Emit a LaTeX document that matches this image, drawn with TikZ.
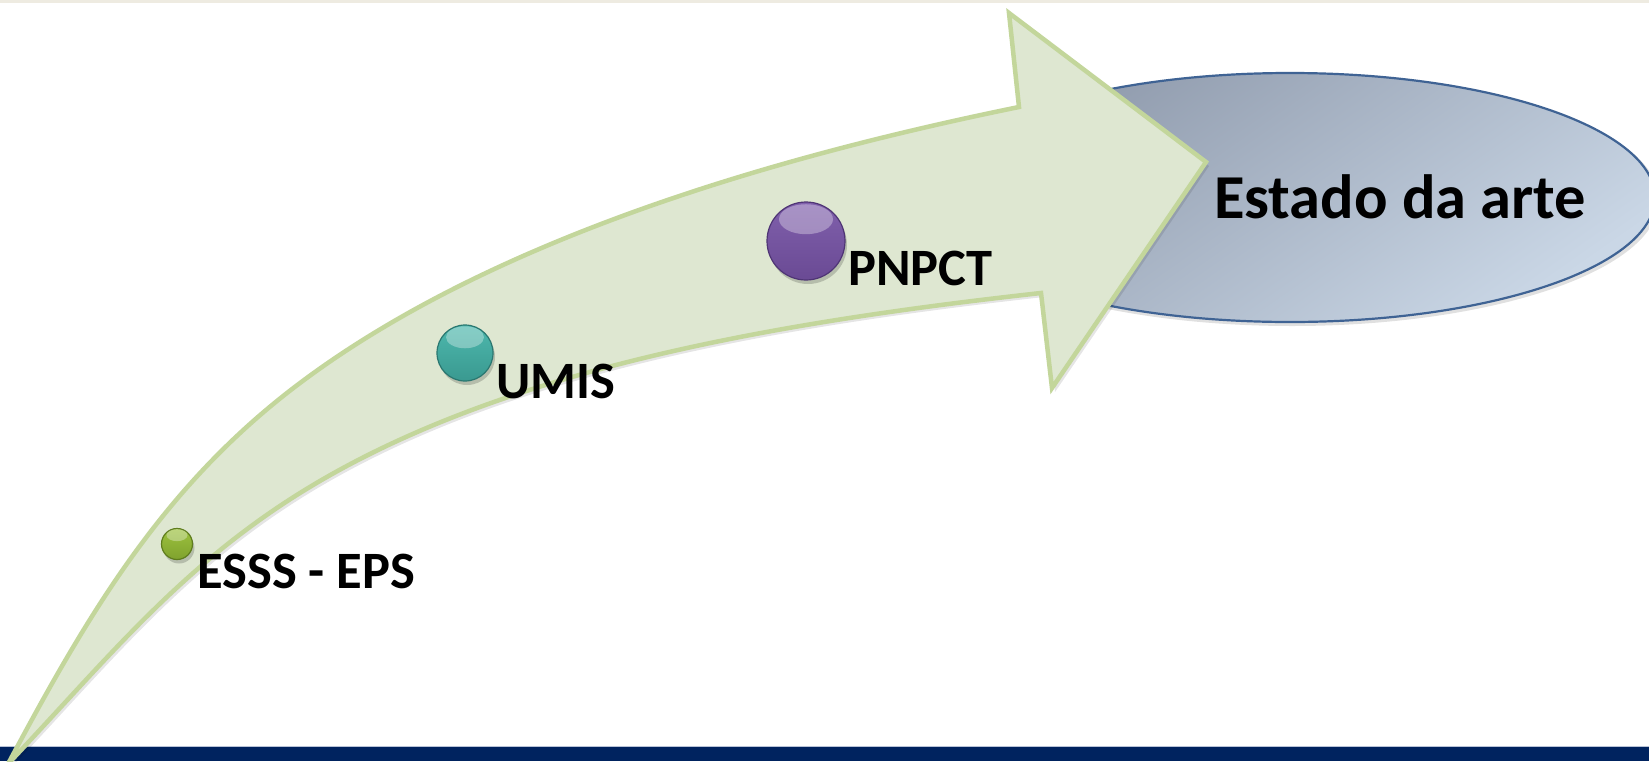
\documentclass[tikz,border=0pt]{standalone}
\usepackage{fontspec}
\setmainfont{Carlito}
\usetikzlibrary{calc}
\definecolor{arrowfill}{HTML}{DEE7D1}
\definecolor{arrowline}{HTML}{C3D69B}
\definecolor{navy}{HTML}{00235F}
\definecolor{beige}{HTML}{EEEBE1}
\definecolor{elltop}{HTML}{8E99AB}
\definecolor{ellbot}{HTML}{CAD7E6}
\definecolor{ellline}{HTML}{3F6394}
\definecolor{gbase}{HTML}{9CC23E}
\definecolor{glow}{HTML}{80A22E}
\definecolor{gdark}{HTML}{5F7D1E}
\definecolor{tbase}{HTML}{4DB8AD}
\definecolor{tlow}{HTML}{3A9990}
\definecolor{tdark}{HTML}{2A7770}
\definecolor{pbase}{HTML}{8060AC}
\definecolor{plow}{HTML}{6A4A94}
\definecolor{pdark}{HTML}{4F3575}
\tikzset{
  ball/.style n args={3}{circle, inner sep=0pt, draw=#3, line width=1.2pt,
     top color=#1, bottom color=#2},
  gloss/.style={white, opacity=0.32},
  lbl/.style={anchor=base west, inner sep=0pt, font=\fontsize{52.5}{56}\selectfont\bfseries},
  big/.style={anchor=base, inner sep=0pt, font=\fontsize{62.5}{66}\selectfont\bfseries},
}
\def\ArrowOutline{(8,764) .. controls (89,612) and (164,485) .. (300,383)
  .. controls (492,239) and (774,157) .. (1019,107)
  -- (1009,13) -- (1206,162) -- (1052,388) -- (1041,293)
  .. controls (766.7,323.4) and (495.5,371.1) .. (300,493)
  .. controls (179.3,568.3) and (107.4,658.8) .. (8,764) -- cycle}
\begin{document}
\begin{tikzpicture}[x=1pt, y=-1pt]
\useasboundingbox (0,0) rectangle (1649,761);
\clip (0,0) rectangle (1649,761);
\fill[white] (0,0) rectangle (1649,761);
% top line
\fill[beige] (0,0) rectangle (1649,2.5);
% bottom bar
\fill[navy] (0,747) rectangle (1649,761);
\draw[color={rgb,255:red,185;green,195;blue,215}, line width=1pt] (0,746.5) -- (1649,746.5);
% ellipse
\fill[black, opacity=0.12] (1292,200) ellipse [x radius=367, y radius=126];
\shade[top color=elltop, bottom color=ellbot, shading angle=35] (1290,197.5) ellipse [x radius=365, y radius=124.5];
\draw[ellline, line width=2.2pt] (1290,197.5) ellipse [x radius=365, y radius=124.5];
\node[big] (estado) at (1400,218) {Estado da arte};
% arrow shadow
\begin{scope}[shift={(3,4)}]
\fill[black, opacity=0.10] \ArrowOutline;
\end{scope}
% arrow
\filldraw[fill=arrowfill, draw=arrowline, line width=4.5pt, line join=miter] \ArrowOutline;
% balls (shadows)
\fill[black, opacity=0.18] (179,548) circle (15.5);
\fill[black, opacity=0.18] (467,357) circle (28);
\fill[black, opacity=0.18] (808,245) circle (39);
% balls
\node[ball={gbase}{glow}{gdark}, minimum size=31pt] (b1) at (177,544) {};
\node[ball={tbase}{tlow}{tdark}, minimum size=56pt] (b2) at (465,353) {};
\node[ball={pbase}{plow}{pdark}, minimum size=78pt] (b3) at (806,241) {};
% gloss highlights
\fill[gloss] ($(b1.center)!0.55!(b1.north)$) ellipse [x radius=10.5, y radius=6];
\fill[gloss] ($(b2.center)!0.55!(b2.north)$) ellipse [x radius=19, y radius=11];
\fill[gloss] ($(b3.center)!0.55!(b3.north)$) ellipse [x radius=27, y radius=15];
% labels
\node[lbl] (l1) at (197,588) {ESSS - EPS};
\node[lbl] (l2) at (496,398) {UMIS};
\node[lbl] (l3) at (848,285) {PNPCT};
\end{tikzpicture}
\end{document}
